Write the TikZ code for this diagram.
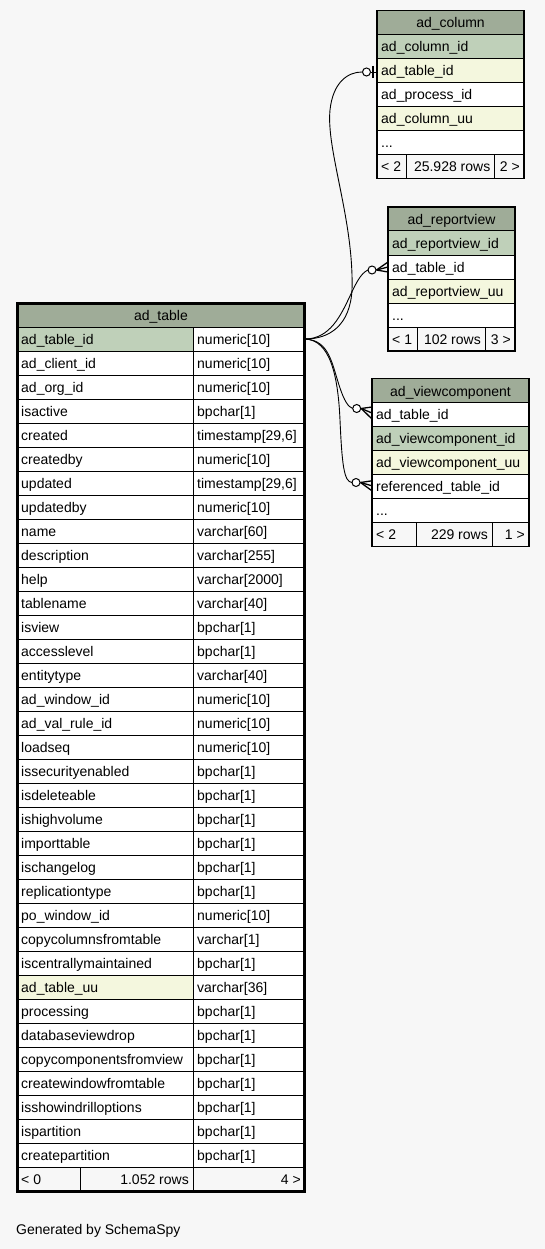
\documentclass[tikz,border=0pt]{standalone}
\usepackage{fontspec}
\setmainfont{Liberation Sans}
\usetikzlibrary{calc}
\definecolor{bg}{RGB}{247,247,247}
\definecolor{hdr}{RGB}{159,172,152}
\definecolor{pk}{RGB}{191,208,185}
\definecolor{fk}{RGB}{244,247,222}
\newcommand\fs{\fontsize{14}{16}\selectfont}
\newcommand\cellL[6]{\node[box,fill=#5,minimum width=#4pt] (#1) at (#2,#3) {};\node[txt,anchor=base west] (#1-t) at ($(#1.west)+(4,5)$) {#6};}
\newcommand\cellR[6]{\node[box,fill=#5,minimum width=#4pt] (#1) at (#2,#3) {};\node[txt,anchor=base east] (#1-t) at ($(#1.east)+(-4,5)$) {#6};}
\newcommand\cellC[6]{\node[box,fill=#5,minimum width=#4pt] (#1) at (#2,#3) {};\node[txt,anchor=base] (#1-t) at ($(#1.center)+(0,5.5)$) {#6};}
% crow with open dot: #1 target node, #2 dot name, #3 dot x offset, #4 dot y offset, #5,#6,#7 toe offsets
\newcommand\crowodot[7]{%
  \node[odot] (#2) at ($(#1.west)+(#3,#4)$) {};
  \draw[crow] (#2.east) -- ($(#1.west)+(0,#5)$);
  \draw[crow] (#2.east) -- ($(#1.west)+(0,#6)$);
  \draw[crow] (#2.east) -- ($(#1.west)+(0,#7)$);}
\tikzset{
  box/.style={draw=black,line width=1pt,anchor=north west,minimum height=24pt,inner sep=0pt,outer sep=0pt},
  txt/.style={font=\fs,inner sep=0pt,text=black},
  edge/.style={draw=black,line width=0.9pt},
  crow/.style={draw=black,line width=1.3pt},
  odot/.style={circle,draw=black,line width=1pt,fill=white,minimum size=8pt,inner sep=0pt},
}
\begin{document}
\begin{tikzpicture}[x=1pt,y=-1pt]
\useasboundingbox (0,0) rectangle (545,1249);
\fill[bg] (0,0) rectangle (545,1249);

% ---------------- ad_table ----------------
\cellC{t-h}{17}{303}{288}{hdr}{ad\_table}
\foreach \n/\t/\f [count=\i from 0] in {
 ad\_table\_id/numeric[10]/pk,
 ad\_client\_id/numeric[10]/white,
 ad\_org\_id/numeric[10]/white,
 isactive/bpchar[1]/white,
 created/{timestamp[29,6]}/white,
 createdby/numeric[10]/white,
 updated/{timestamp[29,6]}/white,
 updatedby/numeric[10]/white,
 name/varchar[60]/white,
 description/varchar[255]/white,
 help/varchar[2000]/white,
 tablename/varchar[40]/white,
 isview/bpchar[1]/white,
 accesslevel/bpchar[1]/white,
 entitytype/varchar[40]/white,
 ad\_window\_id/numeric[10]/white,
 ad\_val\_rule\_id/numeric[10]/white,
 loadseq/numeric[10]/white,
 issecurityenabled/bpchar[1]/white,
 isdeleteable/bpchar[1]/white,
 ishighvolume/bpchar[1]/white,
 importtable/bpchar[1]/white,
 ischangelog/bpchar[1]/white,
 replicationtype/bpchar[1]/white,
 po\_window\_id/numeric[10]/white,
 copycolumnsfromtable/varchar[1]/white,
 iscentrallymaintained/bpchar[1]/white,
 ad\_table\_uu/varchar[36]/fk,
 processing/bpchar[1]/white,
 databaseviewdrop/bpchar[1]/white,
 copycomponentsfromview/bpchar[1]/white,
 createwindowfromtable/bpchar[1]/white,
 isshowindrilloptions/bpchar[1]/white,
 ispartition/bpchar[1]/white,
 createpartition/bpchar[1]/white}{
  \pgfmathsetmacro\yy{327+24*\i}
  \cellL{t-n\i}{17}{\yy}{176}{\f}{\n}
  \cellL{t-y\i}{193}{\yy}{112}{white}{\t}
}
\cellL{t-f0}{17}{1167}{63}{bg}{< 0}
\cellR{t-f1}{80}{1167}{113}{bg}{1.052 rows}
\cellR{t-f2}{193}{1167}{112}{bg}{4 >}
\draw[line width=3pt] (17.5,303.5) rectangle (304,1191.5);

% ---------------- ad_column ----------------
\cellC{c-h}{377}{10.5}{147}{hdr}{ad\_column}
\cellL{c-r0}{377}{34.5}{147}{pk}{ad\_column\_id}
\cellL{c-r1}{377}{58.5}{147}{fk}{ad\_table\_id}
\cellL{c-r2}{377}{82.5}{147}{white}{ad\_process\_id}
\cellL{c-r3}{377}{106.5}{147}{fk}{ad\_column\_uu}
\cellL{c-r4}{377}{130.5}{147}{white}{...}
\cellL{c-f0}{377}{154.5}{29.5}{bg}{< 2}
\cellR{c-f1}{406.5}{154.5}{88}{bg}{25.928 rows}
\cellR{c-f2}{494.5}{154.5}{29.5}{bg}{2 >}
\draw[line width=1.6pt] (377,10.5) rectangle (524,178.5);

% ---------------- ad_reportview ----------------
\cellC{r-h}{388}{207}{127}{hdr}{ad\_reportview}
\cellL{r-r0}{388}{231}{127}{pk}{ad\_reportview\_id}
\cellL{r-r1}{388}{255}{127}{white}{ad\_table\_id}
\cellL{r-r2}{388}{279}{127}{fk}{ad\_reportview\_uu}
\cellL{r-r3}{388}{303}{127}{white}{...}
\cellL{r-f0}{388}{327}{29}{bg}{< 1}
\cellR{r-f1}{417}{327}{68}{bg}{102 rows}
\cellR{r-f2}{485}{327}{30}{bg}{3 >}
\draw[line width=1.6pt] (388,207) rectangle (515,351);

% ---------------- ad_viewcomponent ----------------
\cellC{v-h}{372}{378.5}{157}{hdr}{ad\_viewcomponent}
\cellL{v-r0}{372}{402.5}{157}{white}{ad\_table\_id}
\cellL{v-r1}{372}{426.5}{157}{pk}{ad\_viewcomponent\_id}
\cellL{v-r2}{372}{450.5}{157}{fk}{ad\_viewcomponent\_uu}
\cellL{v-r3}{372}{474.5}{157}{white}{referenced\_table\_id}
\cellL{v-r4}{372}{498.5}{157}{white}{...}
\cellL{v-f0}{372}{522.5}{44}{bg}{< 2}
\cellR{v-f1}{416}{522.5}{76}{bg}{229 rows}
\cellR{v-f2}{492}{522.5}{37}{bg}{1 >}
\draw[line width=1.6pt] (372,378.5) rectangle (529,546.5);

% ---------------- connectors ----------------
\coordinate (s) at (t-y0.east);
% ad_column.ad_table_id (zero or one)
\node[odot] (m1) at ($(c-r1.west)+(-10.5,1.5)$) {};
\draw[edge] (s) .. controls (330,339) and (350,325) .. (352,290)
  .. controls (354,220) and (326,150) .. (330,110)
  .. controls (333,82) and (348,72) .. (m1.west);
\draw[edge] (m1.east) -- ($(c-r1.west)+(0,1.5)$);
\draw[line width=2.4pt] ($(c-r1.west)+(-4,-4.5)$) -- ($(c-r1.west)+(-4,7.5)$);
% ad_reportview.ad_table_id
\draw[edge] (s) .. controls (330,339) and (341,315) .. (350,296)
  .. controls (356,283) and (361,273) .. ($(r-r1.west)+(-20,3)$);
\crowodot{r-r1}{m2}{-16}{3}{-5}{0}{5}
% ad_viewcomponent.ad_table_id
\draw[edge] (s) .. controls (330,340) and (332,365) .. (340,388)
  .. controls (344,400) and (348,407) .. ($(v-r0.west)+(-19.3,-6)$);
\crowodot{v-r0}{m3}{-15.3}{-6}{-7.5}{-1.5}{4.5}
% ad_viewcomponent.referenced_table_id
\draw[edge] (s) .. controls (330,340) and (338,375) .. (340,420)
  .. controls (342,465) and (344,482) .. ($(v-r3.west)+(-20,-4)$);
\crowodot{v-r3}{m4}{-16}{-4}{-5.7}{-0.7}{4.3}

% footer text
\node[txt,anchor=base west] (gen) at (16,1234) {Generated by SchemaSpy};
\end{tikzpicture}
\end{document}
